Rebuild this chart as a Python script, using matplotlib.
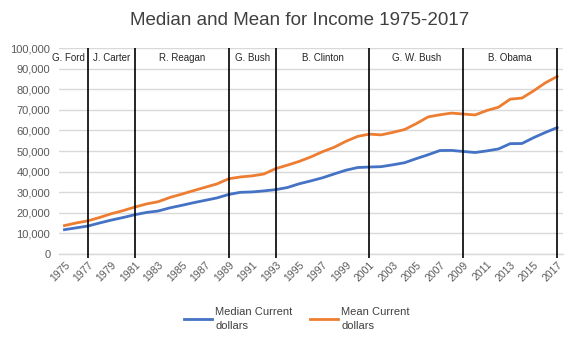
import matplotlib
matplotlib.use("Agg")
import matplotlib.pyplot as plt
from matplotlib.ticker import FuncFormatter

years = list(range(1975, 2018))
median = [11800, 12686, 13572, 15064, 16461, 17710, 19074, 20171, 20885, 22415,
          23618, 24897, 26061, 27225, 28906, 29943, 30126, 30636, 31241, 32264,
          34076, 35492, 37005, 38885, 40696, 41990, 42228, 42409, 43318, 44334,
          46326, 48201, 50233, 50303, 49777, 49276, 50054, 51017, 53585, 53657,
          56516, 59039, 61372]
mean = [13779, 15064, 16100, 17730, 19554, 21063, 22787, 24309, 25401, 27464,
        29066, 30759, 32410, 34017, 36520, 37403, 37922, 38840, 41428, 43133,
        44938, 47123, 49692, 51855, 54737, 57135, 58208, 57852, 59067, 60466,
        63344, 66570, 67609, 68424, 67976, 67530, 69677, 71274, 75195, 75738,
        79263, 83143, 86220]

term_ends = [1977, 1981, 1989, 1993, 2001, 2009, 2017]
presidents = ["G. Ford", "J. Carter", "R. Reagan", "G. Bush", "B. Clinton", "G. W. Bush", "B. Obama"]
label_x = [1975.3, 1979, 1985, 1991, 1997, 2005, 2013]

plt.rcParams['font.family'] = ['Liberation Sans', 'DejaVu Sans']

fig = plt.figure(figsize=(5.88, 3.46), dpi=100)
ax = fig.add_axes([0.0997, 0.266, 0.8578, 0.595])

ax.plot(years, median, color='#4472C4', lw=2.0, label='Median Current\ndollars', zorder=3)
ax.plot(years, mean, color='#ED7D31', lw=2.0, label='Mean Current\ndollars', zorder=3)

ax.vlines(term_ends, -2000, 100000, colors='black', lw=1.2, clip_on=False, zorder=4)
for name, x in zip(presidents, label_x):
    ax.text(x, 95000, name, ha='center', va='center', fontsize=7, color='#262626')

ax.set_xlim(1974.5, 2017.5)
ax.set_ylim(0, 100000)
ax.set_yticks(range(0, 100001, 10000))
ax.yaxis.set_major_formatter(FuncFormatter(lambda v, p: f"{int(v):,}"))
ax.set_xticks(years[::2])
ax.set_xticklabels([str(y) for y in years[::2]], rotation=45, ha='right',
                   rotation_mode='anchor')
ax.tick_params(axis='both', length=0, labelsize=7.5, colors='#595959')
ax.tick_params(axis='y', labelsize=8, pad=6)
ax.tick_params(axis='x', pad=4)
ax.grid(axis='y', color='#d9d9d9', lw=1.0)
ax.set_axisbelow(True)
for s in ['left', 'right', 'top']:
    ax.spines[s].set_visible(False)
ax.spines['bottom'].set_color('#d9d9d9')
ax.spines['bottom'].set_linewidth(1.0)

fig.suptitle('Median and Mean for Income 1975-2017', x=0.51, y=0.965,
             fontsize=13.5, color='#404040')

leg = fig.legend(loc='center', bbox_to_anchor=(0.505, 0.078), ncol=2, frameon=False,
                 fontsize=8, handlelength=2.5, handletextpad=0.3, columnspacing=1.6,
                 labelcolor='#404040')
for t in leg.get_texts():
    t.set_linespacing(1.5)

fig.savefig('out.png', dpi=100)
